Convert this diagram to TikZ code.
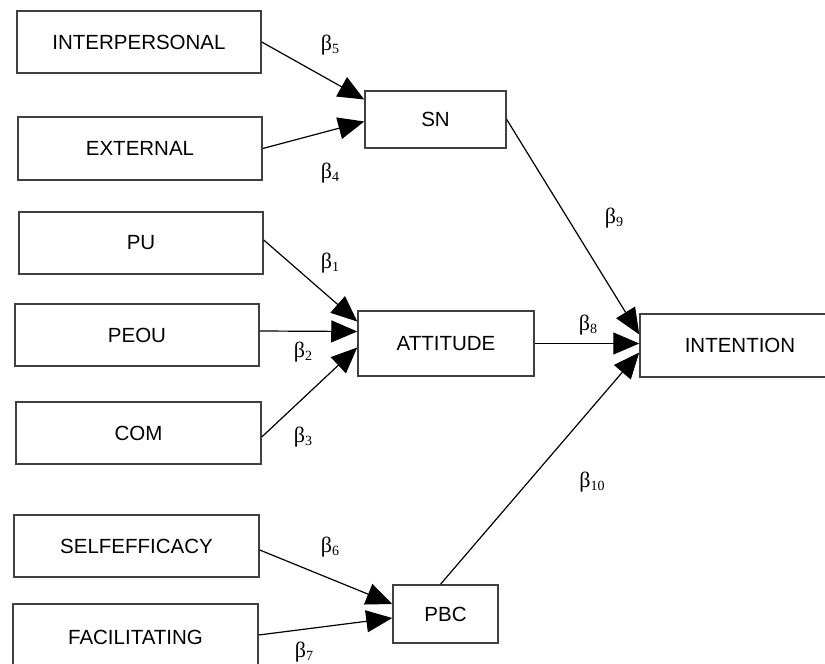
\documentclass[tikz,border=0pt]{standalone}
\usepackage{fontspec}
\setmainfont{Liberation Sans}
\newfontfamily\betafont{Liberation Serif}
\usetikzlibrary{arrows.meta}
\tikzset{
  box/.style={draw=black!75, line width=1.5pt, fill=white, inner sep=0pt,
    font=\fontsize{20.5}{23}\selectfont},
  conn/.style={line width=1.2pt, -{Triangle[length=26pt,width=22pt]}},
  coef/.style={font=\betafont\fontsize{22}{24}\selectfont, inner sep=0pt}
}
\newcommand{\bsub}[1]{β\raisebox{-0.3ex}{\fontsize{14}{15}\selectfont #1}}
\begin{document}
\begin{tikzpicture}[x=1pt,y=-1pt]
\useasboundingbox (0,0) rectangle (825,664);
\clip (0,0) rectangle (825,664);
\fill[white] (0,0) rectangle (825,664);
% boxes
\node[box, minimum width=244pt, minimum height=62pt] (inter) at (139,42) {INTERPERSONAL};
\node[box, minimum width=244pt, minimum height=63pt] (ext) at (140,148.5) {EXTERNAL};
\node[box, minimum width=244pt, minimum height=62pt] (pu) at (141,243) {PU};
\node[box, minimum width=244pt, minimum height=62pt] (peou) at (137,335) {PEOU};
\node[box, minimum width=245pt, minimum height=62pt] (com) at (138.5,433) {COM};
\node[box, minimum width=245pt, minimum height=62pt] (self) at (136.5,546) {SELFEFFICACY};
\node[box, minimum width=245pt, minimum height=70pt] (fac) at (135.5,639) {\raisebox{4pt}{FACILITATING}};
\node[box, minimum width=141pt, minimum height=57pt] (sn) at (435.5,119.5) {SN};
\node[box, minimum width=176pt, minimum height=65pt] (att) at (446,343.5) {ATTITUDE};
\node[box, minimum width=200pt, minimum height=63pt] (int) at (740,345.5) {INTENTION};
\node[box, minimum width=105pt, minimum height=58pt] (pbc) at (445.5,614) {PBC};
% connectors
\draw[conn] (inter.east) -- ([yshift=20pt]sn.west);
\draw[conn] (ext.east) -- ([yshift=-2pt]sn.west);
\draw[conn] ([yshift=3pt]pu.east) -- ([yshift=22pt]att.west);
\draw[conn] ([yshift=4pt]peou.east) -- ([yshift=12pt]att.west);
\draw[conn] ([yshift=-4pt]com.east) -- ([yshift=-4pt]att.west);
\draw[conn] (sn.east) -- ([yshift=11pt]int.west);
\draw[conn] (att.east) -- ([yshift=2pt]int.west);
\draw[conn] ([xshift=-5pt]pbc.north) -- ([yshift=-7pt]int.west);
\draw[conn] ([yshift=-4pt]self.east) -- ([yshift=10pt]pbc.west);
\draw[conn] ([yshift=4pt]fac.east) -- ([yshift=-4pt]pbc.west);
% coefficients
\node[coef] (b5) at (330,45) {\bsub{5}};
\node[coef] (b4) at (330,173) {\bsub{4}};
\node[coef] (b1) at (330,263) {\bsub{1}};
\node[coef] (b2) at (303,352) {\bsub{2}};
\node[coef] (b3) at (303,437) {\bsub{3}};
\node[coef] (b8) at (588,325) {\bsub{8}};
\node[coef] (b9) at (614,218) {\bsub{9}};
\node[coef] (b10) at (592,482) {\bsub{10}};
\node[coef] (b6) at (330,547) {\bsub{6}};
\node[coef] (b7) at (304,652) {\bsub{7}};
\end{tikzpicture}
\end{document}
